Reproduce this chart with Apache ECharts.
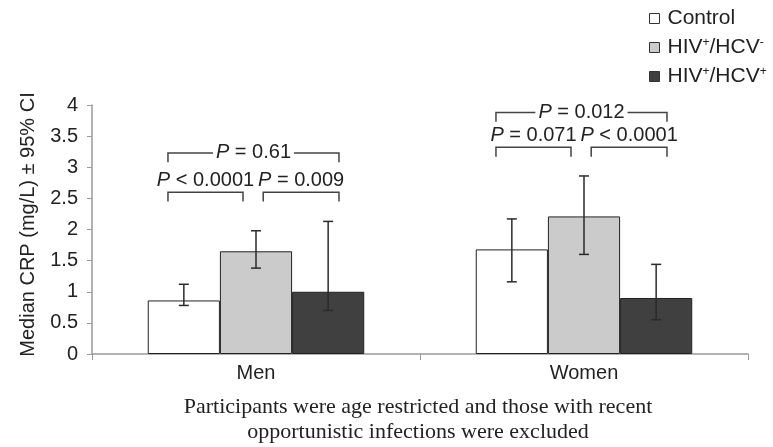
<!DOCTYPE html>
<html>
<head>
<meta charset="utf-8">
<script src="https://cdn.jsdelivr.net/npm/echarts@6/dist/echarts.min.js"></script>
<style>
  html, body { margin: 0; padding: 0; background: #fff; }
  #crpChart { width: 773px; height: 447px; }
</style>
</head>
<body>
<div id="crpChart"></div>
<script>
// categories and series
var categories = ['Men', 'Women']
var seriesNames = ['Control', 'HIV+/HCV-', 'HIV+/HCV+']

// median CRP per group
var controlMedian = [0.86, 1.68]
var hivMedian = [1.65, 2.21]
var coinfMedian = [1.0, 0.9]

// 95% CI [low, high]
var controlCI = [[0.78, 1.12], [1.16, 2.17]]
var hivCI = [[1.38, 1.98], [1.6, 2.86]]
var coinfCI = [[0.7, 2.13], [0.55, 1.44]]

// y axis
var yMin = 0
var yMax = 4
var yStep = 0.5

// comparison brackets: category, from bar, to bar, height, label, label placement
var brackets = [
  [0, 0, 1, 2.6, 'P < 0.0001', 'above'],
  [0, 1, 2, 2.6, 'P = 0.009', 'above'],
  [0, 0, 2, 3.23, 'P = 0.61', 'inline'],
  [1, 0, 1, 3.32, 'P = 0.071', 'above'],
  [1, 1, 2, 3.32, 'P < 0.0001', 'above'],
  [1, 0, 2, 3.88, 'P = 0.012', 'inline']
]

var caption = [
  'Participants were age restricted and those with recent',
  'opportunistic infections were excluded'
]

var SANS = 'Liberation Sans, Arial, sans-serif'
var SERIF = 'Liberation Serif, Times New Roman, serif'
var GAP = 0.34 // barCategoryGap
var fills = ['#ffffff', '#cbcbcb', '#404040']
var FS = 20

var chart = echarts.init(document.getElementById('crpChart'))

function barWidth(api) {
  return api.size([1, 0])[0] * (1 - GAP) / 3
}

// error bars
var errData = []
;[controlCI, hivCI, coinfCI].forEach(function (set, s) {
  set.forEach(function (ci, k) {
    errData.push([k, s, ci[0], ci[1]])
  })
})

function renderError(params, api) {
  var bw = barWidth(api)
  var s = api.value(1)
  var lo = api.coord([api.value(0), api.value(2)])
  var hi = api.coord([api.value(0), api.value(3)])
  var x = lo[0] + (s - 1) * bw
  var cap = 5
  var style = { stroke: '#2a2a2a', lineWidth: 1.5 }
  return {
    type: 'group',
    children: [
      { type: 'line', shape: { x1: x, y1: lo[1], x2: x, y2: hi[1] }, style: style },
      { type: 'line', shape: { x1: x - cap, y1: lo[1], x2: x + cap, y2: lo[1] }, style: style },
      { type: 'line', shape: { x1: x - cap, y1: hi[1], x2: x + cap, y2: hi[1] }, style: style }
    ]
  }
}

// bracket end offsets (in bar widths)
var startOff = [-0.22, 0.1, 0]
var endOff = [0, -0.18, 0.15]

function pText(label) {
  return '{i|P}{n|' + label.slice(1) + '}'
}

function renderBracket(params, api) {
  var b = brackets[params.dataIndex]
  var bw = barWidth(api)
  var c = api.coord([b[0], b[3]])
  var legEnd = api.coord([b[0], b[3] - 0.15])[1]
  var x0 = c[0] + (b[1] - 1) * bw + startOff[b[1]] * bw
  var x1 = c[0] + (b[2] - 1) * bw + endOff[b[2]] * bw
  var y = c[1]
  var inline = b[5] === 'inline'
  return {
    type: 'group',
    children: [
      {
        type: 'polyline',
        shape: { points: [[x0, legEnd], [x0, y], [x1, y], [x1, legEnd]] },
        style: { stroke: '#444', lineWidth: 1.5, fill: null }
      },
      {
        type: 'text',
        z2: 10,
        style: {
          x: (x0 + x1) / 2,
          y: inline ? y : y - 12,
          text: pText(b[4]),
          align: 'center',
          verticalAlign: 'middle',
          backgroundColor: inline ? '#fff' : null,
          padding: inline ? [0, 3] : 0,
          rich: {
            i: { fontSize: FS, fontStyle: 'italic', fontFamily: SANS, fill: '#222' },
            n: { fontSize: FS, fontFamily: SANS, fill: '#222' }
          }
        }
      }
    ]
  }
}

chart.setOption({
  animation: false,
  backgroundColor: '#fff',
  grid: { left: 92, right: 25, top: 105, bottom: 93, outerBoundsMode: 'none' },
  legend: {
    data: seriesNames,
    orient: 'vertical',
    left: 644,
    top: 3,
    icon: 'rect',
    itemWidth: 10,
    itemHeight: 10,
    itemGap: 8,
    itemStyle: { borderColor: '#333', borderWidth: 1 },
    formatter: function (name) {
      return name.replace(/([+-])/g, '{sup|$1}')
    },
    textStyle: {
      fontSize: 21,
      fontFamily: SANS,
      color: '#222',
      padding: [0, 0, 0, 3],
      rich: {
        sup: { fontSize: 12, fontFamily: SANS, color: '#222', padding: [0, 0, 9, 0] }
      }
    }
  },
  xAxis: {
    type: 'category',
    data: categories,
    axisLine: { show: true, lineStyle: { color: '#9a9a9a', width: 1.5 } },
    axisTick: { show: true, length: 6, lineStyle: { color: '#9a9a9a' } },
    axisLabel: { fontSize: FS, fontFamily: SANS, color: '#222', margin: 9 }
  },
  yAxis: {
    type: 'value',
    min: yMin,
    max: yMax,
    interval: yStep,
    name: 'Median CRP (mg/L) ± 95% CI',
    nameLocation: 'middle',
    nameGap: 54,
    nameTextStyle: { fontSize: FS, fontFamily: SANS, color: '#222', padding: [0, 0, 0, 10] },
    axisLine: { show: true, lineStyle: { color: '#9a9a9a', width: 1.5 } },
    axisTick: { show: true, length: 5, lineStyle: { color: '#9a9a9a' } },
    axisLabel: { fontSize: FS, fontFamily: SANS, color: '#222', margin: 14 },
    splitLine: { show: false }
  },
  series: [
    {
      name: seriesNames[0], type: 'bar', data: controlMedian,
      barGap: '0%', barCategoryGap: '34%',
      itemStyle: { color: fills[0], borderColor: '#222', borderWidth: 1 }
    },
    {
      name: seriesNames[1], type: 'bar', data: hivMedian,
      itemStyle: { color: fills[1], borderColor: '#222', borderWidth: 1 }
    },
    {
      name: seriesNames[2], type: 'bar', data: coinfMedian,
      itemStyle: { color: fills[2], borderColor: '#222', borderWidth: 1 }
    },
    {
      type: 'custom', name: 'ci', data: errData, renderItem: renderError,
      encode: { x: 0, y: [2, 3] }, z: 5, clip: false, silent: true
    },
    {
      type: 'custom', name: 'brackets',
      data: brackets.map(function (b) { return [b[0], b[3]] }),
      renderItem: renderBracket, encode: { x: 0, y: 1 }, z: 6, clip: false, silent: true
    }
  ],
  graphic: [
    {
      type: 'text',
      x: 418,
      y: 420,
      style: {
        text: caption.join('\n'),
        align: 'center',
        verticalAlign: 'middle',
        fontSize: 22,
        lineHeight: 25,
        fontFamily: SERIF,
        fill: '#222'
      }
    }
  ]
})
</script>
</body>
</html>
